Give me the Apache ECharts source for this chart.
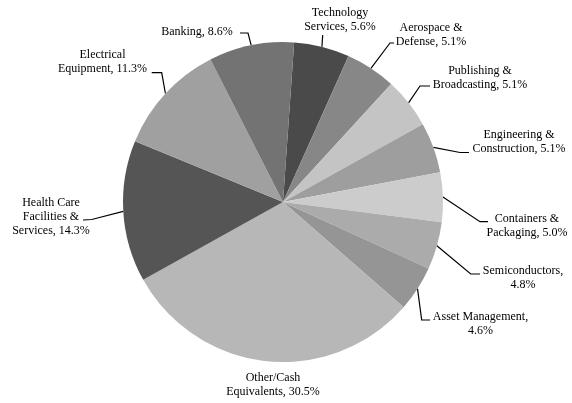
<!DOCTYPE html>
<html>
<head>
<meta charset="utf-8">
<script src="https://cdn.jsdelivr.net/npm/echarts@6/dist/echarts.min.js"></script>
<style>
  html, body { margin: 0; padding: 0; background: #fff; }
  #chart { width: 572px; height: 403px; }
</style>
</head>
<body>
<div id="chart"></div>
<script>
// sectors, clockwise from the top
const sectors = [
  "Technology\nServices",
  "Aerospace &\nDefense",
  "Publishing &\nBroadcasting",
  "Engineering &\nConstruction",
  "Containers &\nPackaging",
  "Semiconductors",
  "Asset Management",
  "Other/Cash\nEquivalents",
  "Health Care\nFacilities &\nServices",
  "Electrical\nEquipment",
  "Banking"
];
const weights = [5.6, 5.1, 5.1, 5.1, 5.0, 4.8, 4.6, 30.5, 14.3, 11.3, 8.6];
const shades = ["#4a4a4a", "#878787", "#c4c4c4", "#9e9e9e", "#cccccc", "#ababab",
                "#959595", "#b7b7b7", "#555555", "#a0a0a0", "#737373"];
// labels where the value goes on its own line
const valueOnNewLine = ["Semiconductors", "Asset Management"];

// label box centre + leader line elbow/end (pixels)
const labelSpots = [
  [340, 20, 322.7, 35, 322.7, 35],
  [431, 35, 390, 43, 394, 43],
  [480, 78, 420, 86, 430, 86],
  [519, 142, 460, 152.5, 469, 152.5],
  [527, 226, 480, 221.7, 488, 221.7],
  [523, 278, 470.7, 274, 480, 274],
  [480.5, 324, 421.7, 320, 430, 320],
  [273, 385, null, null, null, null],
  [51, 216.5, 91.7, 219.5, 83, 220],
  [102.5, 62, 161.7, 72.7, 151.7, 72.7],
  [197, 32, 248, 33, 240, 33]
];

const chart = echarts.init(document.getElementById("chart"));

const data = sectors.map((name, i) => ({
  name: name,
  value: weights[i],
  itemStyle: { color: shades[i] },
  labelLine: { show: labelSpots[i][2] !== null }
}));

chart.setOption({
  animation: false,
  series: [
    {
      type: "pie",
      center: [283, 202],
      radius: [0, 160],
      startAngle: 86,
      clockwise: true,
      avoidLabelOverlap: false,
      data: data,
      label: {
        show: true,
        position: "outside",
        fontFamily: "'Liberation Serif', 'DejaVu Serif', serif",
        fontSize: 12,
        lineHeight: 14,
        color: "#000",
        formatter: function (p) {
          const sep = valueOnNewLine.indexOf(p.name) >= 0 ? ",\n" : ", ";
          return p.name + sep + p.value.toFixed(1) + "%";
        }
      },
      labelLine: {
        show: true,
        length: 10,
        length2: 8,
        smooth: false,
        lineStyle: { color: "#000", width: 1.2 }
      },
      labelLayout: function (params) {
        const s = labelSpots[params.dataIndex];
        const out = { x: s[0], y: s[1], align: "center", verticalAlign: "middle" };
        if (s[2] !== null && params.labelLinePoints) {
          const start = params.labelLinePoints[0];
          out.labelLinePoints = [start, [s[2], s[3]], [s[4], s[5]]];
        }
        return out;
      }
    }
  ]
});
</script>
</body>
</html>
